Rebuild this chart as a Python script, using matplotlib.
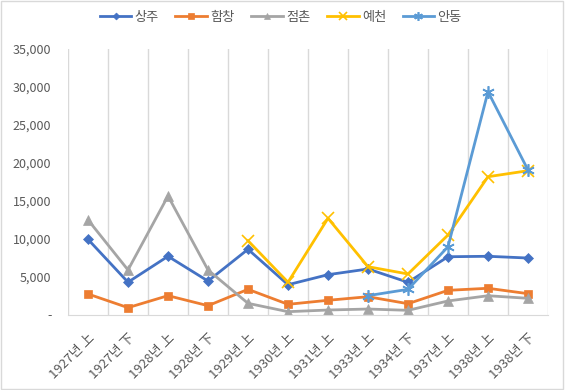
import numpy as np
import matplotlib.pyplot as plt

plt.rcParams['font.family'] = ['Noto Sans CJK KR', 'DejaVu Sans']

periods = ["1927년 上", "1927년 下", "1928년 上", "1928년 下", "1929년 上", "1930년 上",
           "1931년 上", "1933년 上", "1934년 下", "1937년 上", "1938년 上", "1938년 下"]
nan = np.nan
sangju = [9890, 4250, 7660, 4400, 8580, 3920, 5240, 5990, 4240, 7600, 7660, 7430]
hamchang = [2700, 900, 2480, 1160, 3310, 1340, 1870, 2340, 1420, 3180, 3450, 2740]
jeomchon = [12450, 5860, 15590, 5860, 1470, 370, 590, 720, 550, 1780, 2470, 2130]
yecheon = [nan, nan, nan, nan, 9710, 4240, 12660, 6290, 5330, 10460, 18130, 18920]
andong = [nan, nan, nan, nan, nan, nan, nan, 2480, 3310, 8920, 29320, 19010]

series = [
    ("상주", sangju, "#4472C4", "D", 5),
    ("함창", hamchang, "#ED7D31", "s", 6),
    ("점촌", jeomchon, "#A5A5A5", "^", 7),
    ("예천", yecheon, "#FFC000", "x", 8),
    ("안동", andong, "#5B9BD5", (6, 2, 0), 9),
]

fig = plt.figure(figsize=(5.65, 3.9), dpi=100)
ax = fig.add_axes([68 / 565, 1 - 314.5 / 390, 480 / 565, 266 / 390])

x = np.arange(len(periods))
for name, vals, color, marker, ms in series:
    thin = marker == "x" or isinstance(marker, tuple)
    ax.plot(x, vals, color=color, linewidth=2, marker=marker, markersize=ms,
            markeredgewidth=1.2 if thin else 0.5,
            markeredgecolor=color, markerfacecolor=color, label=name)

ax.set_xlim(-0.5, len(periods) - 0.5)
ax.set_ylim(0, 35000)

# vertical gridlines at category boundaries
for b in np.arange(-0.5, len(periods), 1.0):
    ax.axvline(b, color="#d9d9d9", linewidth=1, zorder=0)

ax.set_xticks(x)
ax.set_xticklabels(periods, rotation=45, ha="right", rotation_mode="anchor",
                   fontsize=9.5, color="#595959")
ax.set_yticks(np.arange(0, 35001, 5000))
ax.set_yticklabels(["-"] + [f"{v:,}" for v in range(5000, 35001, 5000)],
                   fontsize=9, color="#595959")
ax.tick_params(axis="both", length=0)
ax.tick_params(axis="x", pad=12)
ax.tick_params(axis="y", pad=12)

for s in ["top", "right", "left"]:
    ax.spines[s].set_visible(False)
ax.spines["bottom"].set_color("#d9d9d9")

leg = fig.legend(loc="center", bbox_to_anchor=(0.497, 1 - 17 / 390), ncol=5,
                 frameon=False, fontsize=9.5, handlelength=2.4, columnspacing=1.25,
                 handletextpad=0.25, markerscale=0.7)
for t in leg.get_texts():
    t.set_color("#595959")

# chart border
fig.patches.append(plt.Rectangle((0.002, 0.003), 0.995, 0.994, transform=fig.transFigure,
                                 fill=False, edgecolor="#d9d9d9", linewidth=1))

fig.savefig("out.png", dpi=100)
